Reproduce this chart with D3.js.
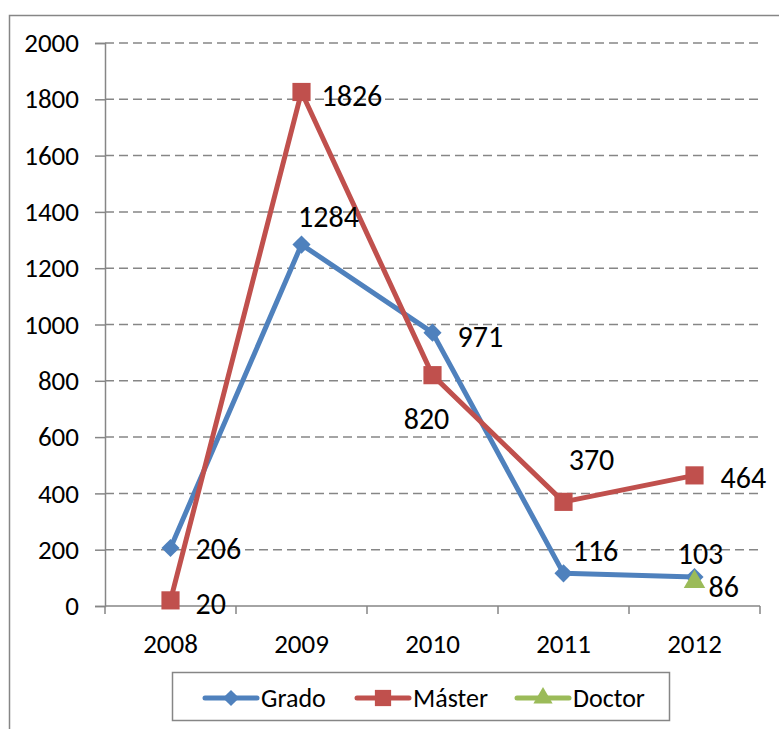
<!DOCTYPE html>
<html>
<head>
<meta charset="utf-8">
<script src="https://cdn.jsdelivr.net/npm/d3@7"></script>
<style>
  body { margin: 0; background: #fff; }
  svg text { font-family: Carlito, Calibri, Lato, sans-serif; fill: #000; }
</style>
</head>
<body>
<div id="chart"></div>
<script>
// data
var years = ["2008", "2009", "2010", "2011", "2012"];
var grado = [206, 1284, 971, 116, 103];
var master = [20, 1826, 820, 370, 464];
var doctor = [null, null, null, null, 86];
var yTicks = [0, 200, 400, 600, 800, 1000, 1200, 1400, 1600, 1800, 2000];

// label placement (dx, dy, anchor) per point
var gradoLabelPos = [[25, 0, "start"], [27, -28, "middle"], [25, 4, "start"], [32, -23, "middle"], [6, -24, "middle"]];
var masterLabelPos = [[25, 3, "start"], [20, 4, "start"], [-6, 43, "middle"], [28, -42, "middle"], [26, 2, "start"]];
var doctorLabelPos = [null, null, null, null, [14, 5, "start"]];

var width = 779, height = 729;
var svg = d3.select("#chart").append("svg")
    .attr("width", width)
    .attr("height", height);

// outer chart border (right/bottom run off the picture)
svg.append("rect")
    .attr("x", 9.5).attr("y", 15.5)
    .attr("width", 800).attr("height", 800)
    .attr("fill", "none")
    .attr("stroke", "#868686")
    .attr("stroke-width", 1.5);

var x = d3.scaleBand().domain(years).range([105, 760]).padding(0);
var y = d3.scaleLinear().domain([0, 2000]).range([606, 43]);
function cx(i) { return x(years[i]) + x.bandwidth() / 2; }

// gridlines
svg.append("g")
    .selectAll("line")
    .data(yTicks.filter(function(d) { return d > 0; }))
    .enter().append("line")
    .attr("x1", 105).attr("x2", 758)
    .attr("y1", function(d) { return y(d); })
    .attr("y2", function(d) { return y(d); })
    .attr("stroke", "#868686")
    .attr("stroke-width", 1.5)
    .attr("stroke-dasharray", "9,5");

// y axis
var yAxis = svg.append("g")
    .attr("transform", "translate(105,0)")
    .call(d3.axisLeft(y).tickValues(yTicks).tickSize(10).tickPadding(16).tickFormat(d3.format("d")));
yAxis.select(".domain").attr("stroke", "#868686").attr("stroke-width", 1.5);
yAxis.selectAll(".tick line").attr("stroke", "#868686").attr("stroke-width", 1.5);
yAxis.selectAll("text").attr("font-size", 27).attr("font-family", null);

// x axis
var xAxis = svg.append("g")
    .attr("transform", "translate(0,606)");
xAxis.append("line")
    .attr("x1", 105).attr("x2", 760)
    .attr("stroke", "#868686").attr("stroke-width", 1.5);
xAxis.selectAll(".xt")
    .data(years.concat(["end"]))
    .enter().append("line")
    .attr("class", "xt")
    .attr("x1", function(d, i) { return 105 + i * x.bandwidth(); })
    .attr("x2", function(d, i) { return 105 + i * x.bandwidth(); })
    .attr("y1", 0).attr("y2", 8)
    .attr("stroke", "#868686").attr("stroke-width", 1.5);
xAxis.selectAll(".xl")
    .data(years)
    .enter().append("text")
    .attr("class", "xl")
    .attr("x", function(d, i) { return cx(i); })
    .attr("y", 37)
    .attr("text-anchor", "middle")
    .attr("dominant-baseline", "central")
    .attr("font-size", 27)
    .text(function(d) { return d; });

// diamond = square turned 45deg
var series = [
    { name: "Grado", values: grado, color: "#4f81bd", marker: d3.symbolSquare, size: 165, rot: 45, pos: gradoLabelPos },
    { name: "Máster", values: master, color: "#c0504d", marker: d3.symbolSquare, size: 330, rot: 0, pos: masterLabelPos },
    { name: "Doctor", values: doctor, color: "#9bbb59", marker: d3.symbolTriangle, size: 200, rot: 0, pos: doctorLabelPos }
];

var line = d3.line()
    .defined(function(d) { return d != null; })
    .x(function(d, i) { return cx(i); })
    .y(function(d) { return y(d); });

series.forEach(function(s) {
    var g = svg.append("g");
    g.append("path")
        .datum(s.values)
        .attr("d", line)
        .attr("fill", "none")
        .attr("stroke", s.color)
        .attr("stroke-width", 5)
        .attr("stroke-linejoin", "round")
        .attr("stroke-linecap", "round");
    g.selectAll("path.m")
        .data(s.values.map(function(v, i) { return { v: v, i: i }; }).filter(function(d) { return d.v != null; }))
        .enter().append("path")
        .attr("class", "m")
        .attr("d", d3.symbol().type(s.marker).size(s.size))
        .attr("transform", function(d) {
            return "translate(" + cx(d.i) + "," + y(d.v) + ") rotate(" + s.rot + ")";
        })
        .attr("fill", s.color);
});

// data labels
series.forEach(function(s) {
    svg.append("g").selectAll("text")
        .data(s.values.map(function(v, i) { return { v: v, i: i, p: s.pos[i] }; }).filter(function(d) { return d.v != null; }))
        .enter().append("text")
        .attr("x", function(d) { return cx(d.i) + d.p[0]; })
        .attr("y", function(d) { return y(d.v) + d.p[1]; })
        .attr("text-anchor", function(d) { return d.p[2]; })
        .attr("dominant-baseline", "central")
        .attr("font-size", 30)
        .text(function(d) { return d.v; });
});

// legend
var legend = svg.append("g");
legend.append("rect")
    .attr("x", 172.5).attr("y", 672.5)
    .attr("width", 497).attr("height", 48)
    .attr("fill", "#fff")
    .attr("stroke", "#868686")
    .attr("stroke-width", 1.5);
var legendX = [205, 357, 517];
series.forEach(function(s, i) {
    var lg = legend.append("g").attr("transform", "translate(" + legendX[i] + ",698)");
    lg.append("line")
        .attr("x1", 0).attr("x2", 52)
        .attr("stroke", s.color).attr("stroke-width", 5)
        .attr("stroke-linecap", "round");
    lg.append("path")
        .attr("d", d3.symbol().type(s.marker).size(s.size * 0.8))
        .attr("transform", "translate(26,0) rotate(" + s.rot + ")")
        .attr("fill", s.color);
    lg.append("text")
        .attr("x", 56).attr("y", 0)
        .attr("dominant-baseline", "central")
        .attr("font-size", 26)
        .text(s.name);
});
</script>
</body>
</html>
